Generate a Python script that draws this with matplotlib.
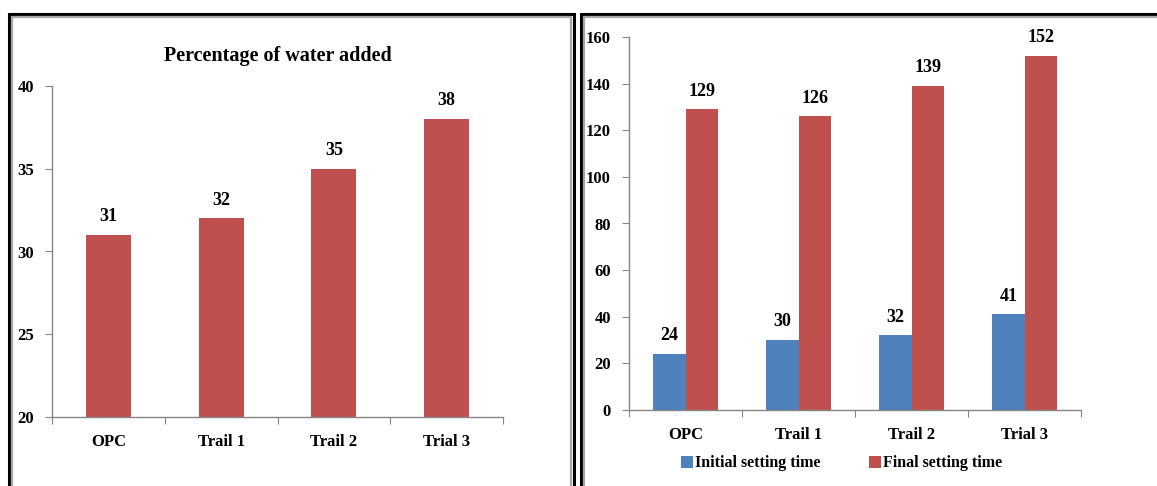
import numpy as np
import matplotlib
matplotlib.use('Agg')
import matplotlib.pyplot as plt
from matplotlib.lines import Line2D
from matplotlib.patches import Patch

plt.rcParams['font.family'] = ['Liberation Serif', 'DejaVu Serif']
plt.rcParams['font.weight'] = 'bold'

# Water demand per mix
categories = ['OPC', 'Trail 1', 'Trail 2', 'Trial 3']
water_added = [31, 32, 35, 38]

# Setting times (minutes)
initial_setting = [24, 30, 32, 41]
final_setting = [129, 126, 139, 152]

RED = '#C0504D'
BLUE = '#4F81BD'
SPINE = '#868686'

W, H = 1157, 486
fig = plt.figure(figsize=(W / 100, H / 100), dpi=100)


def px(x, y):
    # pixel coords (top-left origin) -> figure fraction
    return x / W, 1 - y / H


def frame(x0, x1, y0):
    # thick black outline with a grey inner line, open at the bottom
    for off, col, lw in [(0, 'black', 2.2), (3, '#A6A6A6', 1.6)]:
        xs = [x0 + off, x0 + off, x1 - off, x1 - off]
        ys = [H + 5, y0 + off, y0 + off, H + 5]
        pts = [px(a, b) for a, b in zip(xs, ys)]
        fig.add_artist(Line2D([p[0] for p in pts], [p[1] for p in pts],
                              color=col, lw=lw, transform=fig.transFigure,
                              solid_joinstyle='miter'))


frame(9, 574, 14)
frame(581, 1170, 14)


def style_axes(ax, ymin, ymax, step):
    ax.set_xlim(-0.5, len(categories) - 0.5)
    ax.set_ylim(ymin, ymax)
    ax.set_yticks(np.arange(ymin, ymax + 1, step))
    for s in ['top', 'right']:
        ax.spines[s].set_visible(False)
    for s in ['left', 'bottom']:
        ax.spines[s].set_color(SPINE)
        ax.spines[s].set_linewidth(1.0)
    # boundaries get tick marks, category centres get the labels
    ax.set_xticks(np.arange(len(categories) + 1) - 0.5)
    ax.set_xticklabels([])
    ax.set_xticks(np.arange(len(categories)), minor=True)
    ax.set_xticklabels(categories, minor=True, fontsize=12, fontweight='bold')
    ax.tick_params(axis='x', which='major', length=5, color=SPINE, direction='out')
    ax.tick_params(axis='x', which='minor', length=0, pad=12)
    ax.tick_params(axis='y', length=5, color=SPINE, direction='out', pad=8,
                   labelsize=12)
    for lab in ax.get_yticklabels():
        lab.set_fontweight('bold')


# Left panel: percentage of water added
x0, y1 = px(52, 417)
x1, y0 = px(503, 86)
ax1 = fig.add_axes([x0, y1, x1 - x0, y0 - y1])
pos = np.arange(len(categories))
bars = ax1.bar(pos, water_added, width=0.4, color=RED, zorder=2)
style_axes(ax1, 20, 40, 5)
for b, v in zip(bars, water_added):
    ax1.annotate(str(v), (b.get_x() + b.get_width() / 2, v),
                 xytext=(0, 7), textcoords='offset points', ha='center',
                 va='bottom', fontsize=13, fontweight='bold')
ax1.text(0.5, 1.09, 'Percentage of water added', transform=ax1.transAxes,
         ha='center', va='center', fontsize=14.5, fontweight='bold')

# Right panel: initial and final setting times
x0, y1 = px(629, 410)
x1, y0 = px(1081, 37)
ax2 = fig.add_axes([x0, y1, x1 - x0, y0 - y1])
bw = 0.285
b_init = ax2.bar(pos - bw / 2, initial_setting, width=bw, color=BLUE, zorder=2)
b_final = ax2.bar(pos + bw / 2, final_setting, width=bw, color=RED, zorder=2)
style_axes(ax2, 0, 160, 20)
for group, vals in [(b_init, initial_setting), (b_final, final_setting)]:
    for b, v in zip(group, vals):
        ax2.annotate(str(v), (b.get_x() + b.get_width() / 2, v),
                     xytext=(0, 7), textcoords='offset points', ha='center',
                     va='bottom', fontsize=13, fontweight='bold')

handles = [Patch(facecolor=BLUE, label='Initial setting time'),
           Patch(facecolor=RED, label='Final setting time')]
ax2.legend(handles=handles, loc='center', bbox_to_anchor=(0.47, -0.143),
           ncol=2, frameon=False, handlelength=0.75,
           handleheight=0.75, handletextpad=0.15, columnspacing=3.0,
           prop={'weight': 'bold', 'size': 11.5})

fig.savefig('out.png', dpi=100)
